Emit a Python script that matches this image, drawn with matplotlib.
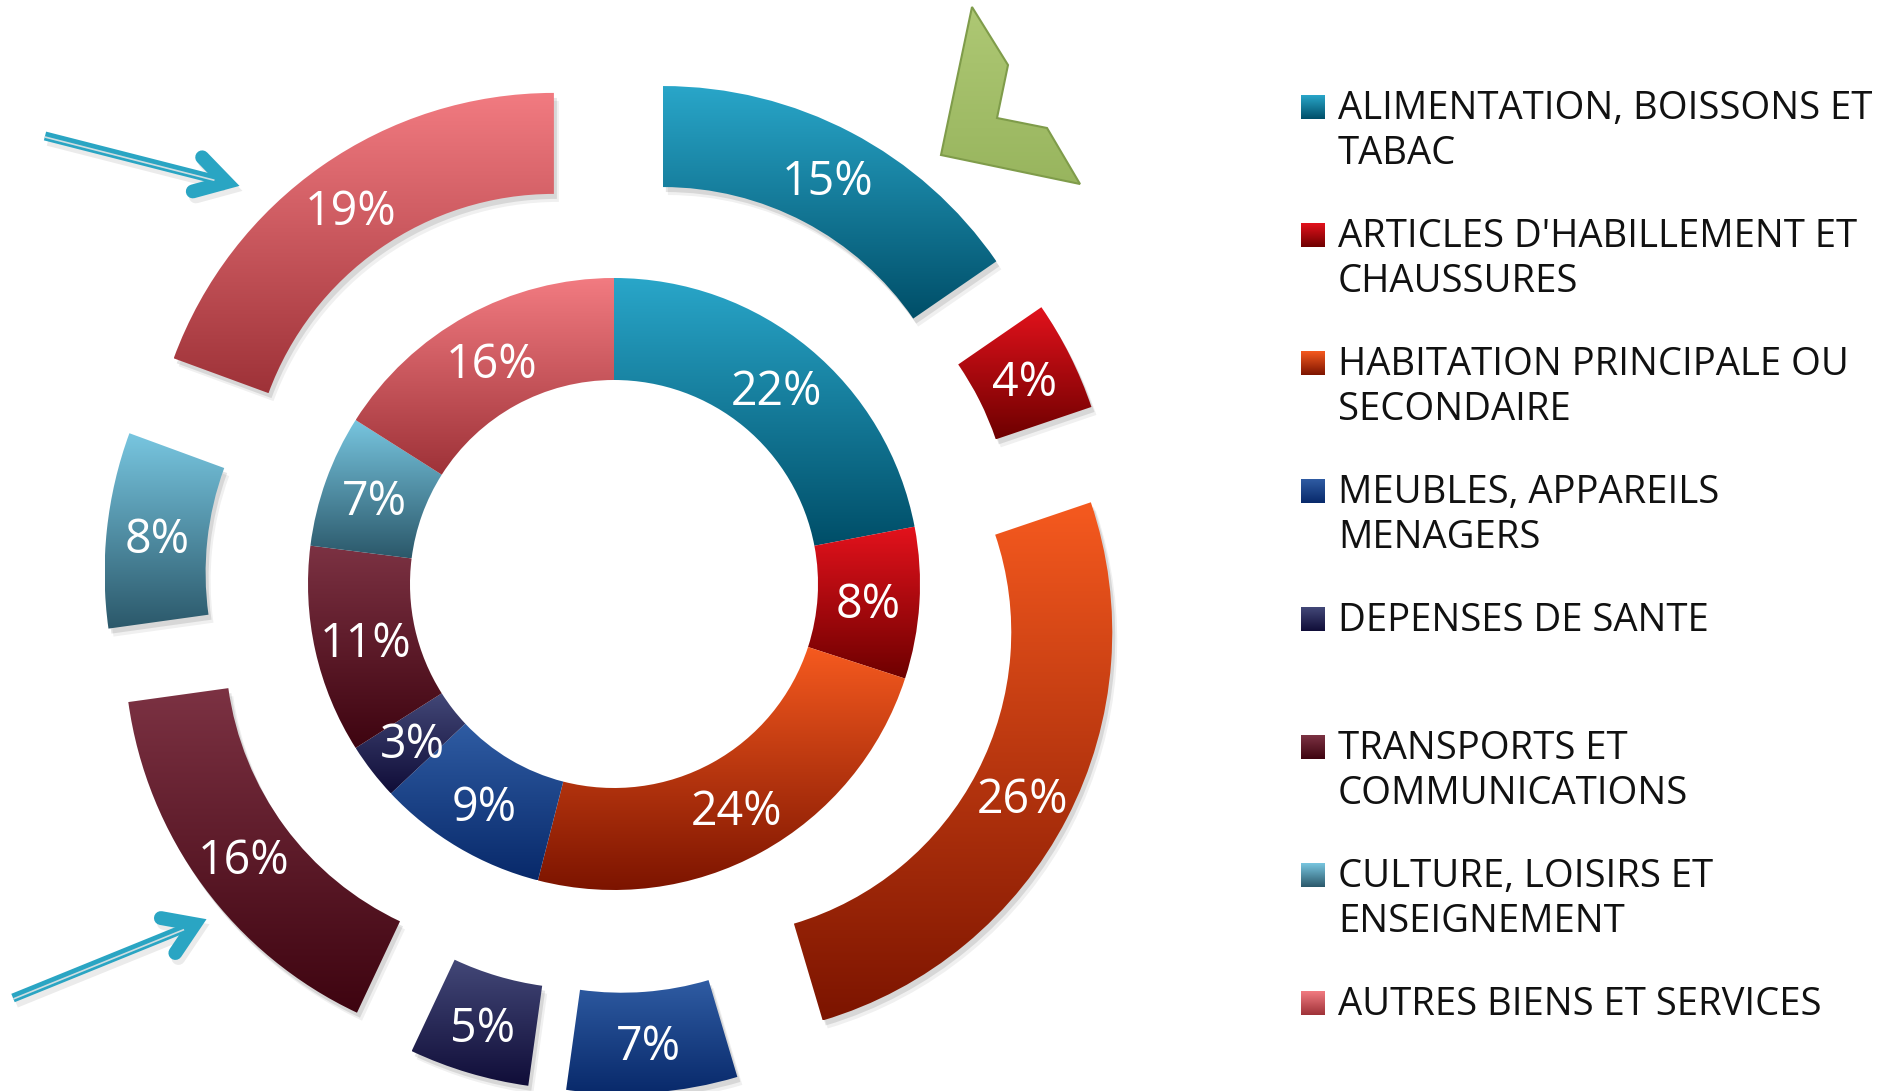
import numpy as np
import matplotlib
matplotlib.use("Agg")
import matplotlib.pyplot as plt
from matplotlib.colors import LinearSegmentedColormap
from matplotlib.patches import Rectangle, Polygon, PathPatch
from matplotlib.transforms import Affine2D

# ---------------- data ----------------
categories = [
    "ALIMENTATION, BOISSONS ET\nTABAC",
    "ARTICLES D'HABILLEMENT ET\nCHAUSSURES",
    "HABITATION PRINCIPALE OU\nSECONDAIRE",
    "MEUBLES, APPAREILS\nMENAGERS",
    "DEPENSES DE SANTE",
    "TRANSPORTS ET\nCOMMUNICATIONS",
    "CULTURE, LOISIRS ET\nENSEIGNEMENT",
    "AUTRES BIENS ET SERVICES",
]
# outer ring (estimated shares, labels shown rounded)
outer_values = [15.4, 4.4, 25.6, 6.8, 4.8, 15.8, 7.8, 19.4]
# inner ring
inner_values = [22, 8, 24, 9, 3, 11, 7, 16]

top_colors = ["#29a6c9", "#e3121c", "#f65a1f", "#2f5ca3", "#434878",
              "#7c3243", "#78c6e0", "#f27b81"]
bottom_colors = ["#004e68", "#6e0000", "#7c1400", "#08296a", "#100d38",
                 "#3e0410", "#2b586a", "#9e3238"]

FONT = ["Open Sans", "DejaVu Sans"]
W, H = 1877, 1091

fig = plt.figure(figsize=(W / 100, H / 100), dpi=100)
ax = fig.add_axes([0, 0, 1, 1])
ax.axis("off")

cx, cy = 614, H - 584
r_inner, w_inner = 306, 102
r_outer, w_outer = 405, 101
explode_d = 105

grad = np.linspace(0, 1, 256).reshape(-1, 1)


def grad_fill(patch, top, bottom, z, shadow=False):
    patch.set_facecolor("none")
    patch.set_edgecolor("none")
    ext = patch.get_path().get_extents(patch.get_patch_transform())
    cmap = LinearSegmentedColormap.from_list("g", [bottom, top])
    im = ax.imshow(grad, cmap=cmap, origin="lower",
                   extent=(ext.x0, ext.x1, ext.y0, ext.y1),
                   aspect="auto", zorder=z, interpolation="bilinear")
    im.set_clip_path(patch)
    if shadow:
        path = patch.get_path().transformed(patch.get_patch_transform())
        for (dx, dy, a) in [(3, -5, 0.10), (5, -8, 0.06)]:
            ax.add_patch(PathPatch(path.transformed(Affine2D().translate(dx, dy)),
                                   fc="black", lw=0, alpha=a, zorder=z - 1))


text_kw = dict(color="white", fontsize=33.5, family=FONT)
pct = lambda p: f"{round(p):d}%"

w_out, _, t_out = ax.pie(outer_values, radius=r_outer, center=(cx, cy),
                         startangle=90, counterclock=False,
                         explode=[explode_d] * len(outer_values),
                         wedgeprops=dict(width=w_outer, linewidth=0),
                         autopct=pct,
                         pctdistance=(r_outer - w_outer / 2) / r_outer,
                         textprops=text_kw)
w_in, _, t_in = ax.pie(inner_values, radius=r_inner, center=(cx, cy),
                       startangle=90, counterclock=False,
                       wedgeprops=dict(width=w_inner, linewidth=0),
                       autopct=pct,
                       pctdistance=(r_inner - w_inner / 2) / r_inner,
                       textprops=text_kw)

for i, w in enumerate(w_out):
    grad_fill(w, top_colors[i], bottom_colors[i], 2, shadow=True)
for i, w in enumerate(w_in):
    grad_fill(w, top_colors[i], bottom_colors[i], 2, shadow=False)
for t in list(t_out) + list(t_in):
    t.set_zorder(5)
    x, y = t.get_position()
    t.set_position((x, y - 5))

# ---------------- legend ----------------
leg_x, leg_y0, leg_dy, line_dy, sq = 1301, 107, 128, 45, 24
for i, lab in enumerate(categories):
    yc = H - (leg_y0 + i * leg_dy)
    rect = Rectangle((leg_x, yc - sq / 2), sq, sq)
    ax.add_patch(rect)
    grad_fill(rect, top_colors[i], bottom_colors[i], 2)
    for j, line in enumerate(lab.split("\n")):
        ax.text(leg_x + 37, yc - 2 - j * line_dy, line, fontsize=27.5, family=FONT,
                color="#111111", va="center", ha="left")

# ---------------- decorations ----------------
green = Polygon([(972, H - 7), (1008, H - 65), (997, H - 118), (1047, H - 128),
                 (1080, H - 184), (941, H - 155)], closed=True)
ax.add_patch(green)
grad_fill(green, "#aec874", "#98b55e", 3)
ax.add_patch(Polygon(green.get_xy(), closed=True, fc="none", ec="#7f9c4a",
                     lw=1.5, zorder=4))

teal = "#2aa5c3"


def arrow(start, tip, w1, w2):
    s = np.array([start[0], H - start[1]], float)
    t = np.array([tip[0], H - tip[1]], float)
    a1 = np.array([w1[0], H - w1[1]], float)
    a2 = np.array([w2[0], H - w2[1]], float)
    d = t - s
    u = d / np.hypot(*d)
    n = np.array([u[1], -u[0]])
    tc = t - u * 11
    a1c = a1 + (tc - a1) / np.hypot(*(tc - a1)) * 6
    a2c = a2 + (tc - a2) / np.hypot(*(tc - a2)) * 6
    end = tc - u * 4
    ax.plot([s[0] + 3, end[0] + 3], [s[1] - 5, end[1] - 5], color="black",
            alpha=0.08, lw=7, solid_capstyle="butt", zorder=3)
    ax.plot([a1c[0] + 3, tc[0] + 3, a2c[0] + 3], [a1c[1] - 5, tc[1] - 5, a2c[1] - 5],
            color="black", alpha=0.08, lw=10, solid_capstyle="round",
            solid_joinstyle="miter", zorder=3)
    ax.plot([s[0], end[0]], [s[1], end[1]], color=teal, lw=6.5,
            solid_capstyle="butt", zorder=4)
    ax.plot([s[0] + n[0] * 1.0, end[0] - u[0] * 8 + n[0] * 1.0],
            [s[1] + n[1] * 1.0, end[1] - u[1] * 8 + n[1] * 1.0],
            color="#cfdde1", lw=1.2, solid_capstyle="butt", zorder=5)
    ax.plot([a1c[0], tc[0], a2c[0]], [a1c[1], tc[1], a2c[1]],
            color=teal, lw=10, solid_capstyle="round",
            solid_joinstyle="miter", zorder=4)


arrow((45, 136), (237, 185), (198, 153), (187, 193))
arrow((13, 998), (205, 920), (155, 917), (172, 958))

ax.set_xlim(0, W)
ax.set_ylim(0, H)
fig.savefig("out.png", dpi=100, facecolor="white")
